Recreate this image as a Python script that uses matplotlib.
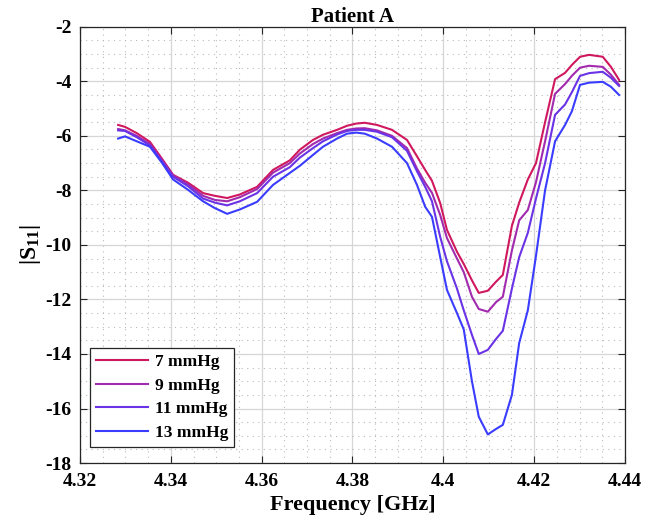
import matplotlib
matplotlib.use("Agg")
import matplotlib.pyplot as plt
from matplotlib.ticker import MultipleLocator

plt.rcParams['font.family'] = ['Liberation Serif', 'DejaVu Serif']
plt.rcParams['font.weight'] = 'bold'
plt.rcParams['axes.unicode_minus'] = False
plt.rcParams['mathtext.fontset'] = 'custom'
plt.rcParams['mathtext.rm'] = 'Liberation Serif:bold'
plt.rcParams['mathtext.bf'] = 'Liberation Serif:bold'
plt.rcParams['mathtext.it'] = 'Liberation Serif:bold'

freq = [4.3284, 4.3299, 4.3325, 4.3354, 4.3381, 4.3405, 4.3438, 4.3471, 4.3497,
        4.3524, 4.3552, 4.3590, 4.3625, 4.3662, 4.3684, 4.3713, 4.3735, 4.3766,
        4.3788, 4.3808, 4.3827, 4.3854, 4.3887, 4.3920, 4.3942, 4.3960, 4.3975,
        4.3993, 4.4008, 4.4030, 4.4045, 4.4063, 4.4078, 4.4098, 4.4116, 4.4131,
        4.4151, 4.4167, 4.4186, 4.4204, 4.4224, 4.4246, 4.4268, 4.4283, 4.4301,
        4.4321, 4.4351, 4.4369, 4.4387]

s11_7 = [-5.60, -5.67, -5.90, -6.22, -6.85, -7.43, -7.72, -8.10, -8.20,
         -8.28, -8.15, -7.87, -7.25, -6.90, -6.51, -6.15, -5.96, -5.78,
         -5.63, -5.55, -5.52, -5.60, -5.78, -6.15, -6.75, -7.25, -7.65,
         -8.46, -9.45, -10.25, -10.70, -11.30, -11.76, -11.68, -11.35, -11.10,
         -9.30, -8.45, -7.60, -7.00, -5.50, -3.92, -3.69, -3.40, -3.10,
         -3.03, -3.10, -3.47, -3.95]

s11_9 = [-5.75, -5.80, -6.00, -6.30, -6.90, -7.45, -7.78, -8.20, -8.35,
         -8.40, -8.25, -7.95, -7.35, -7.00, -6.65, -6.30, -6.10, -5.90,
         -5.78, -5.73, -5.72, -5.80, -6.00, -6.45, -7.20, -7.72, -8.09,
         -8.90, -9.75, -10.50, -11.00, -11.90, -12.35, -12.45, -12.10, -11.90,
         -10.20, -9.10, -8.72, -7.70, -6.20, -4.46, -4.10, -3.80, -3.50,
         -3.43, -3.47, -3.76, -4.13]

s11_11 = [-5.80, -5.82, -6.05, -6.35, -6.95, -7.50, -7.85, -8.30, -8.45,
          -8.55, -8.40, -8.10, -7.50, -7.15, -6.80, -6.45, -6.20, -5.95,
          -5.82, -5.78, -5.78, -5.85, -6.05, -6.55, -7.30, -7.87, -8.40,
          -9.70, -10.60, -11.60, -12.40, -13.30, -14.00, -13.85, -13.45, -13.15,
          -11.60, -10.45, -9.56, -8.30, -7.00, -5.23, -4.85, -4.40, -3.80,
          -3.70, -3.65, -3.87, -4.17]

s11_13 = [-6.10, -6.02, -6.20, -6.40, -7.00, -7.60, -7.98, -8.40, -8.65,
          -8.86, -8.70, -8.42, -7.80, -7.36, -7.10, -6.70, -6.40, -6.10,
          -5.92, -5.88, -5.92, -6.10, -6.40, -7.00, -7.80, -8.60, -8.97,
          -10.44, -11.65, -12.50, -13.10, -15.00, -16.30, -16.95, -16.75, -16.60,
          -15.50, -13.60, -12.40, -10.40, -8.00, -6.20, -5.60, -5.10, -4.13,
          -4.05, -4.02, -4.20, -4.50]

labels = ['7 mmHg', '9 mmHg', '11 mmHg', '13 mmHg']
series = [s11_7, s11_9, s11_11, s11_13]
colors = ['#D0185F', '#A22AAE', '#6B33E6', '#3A3CFF']

fig = plt.figure(figsize=(6.45, 5.25), dpi=100)
ax = fig.add_axes([0.124, 0.118, 0.845, 0.831])

for y, lab, c in zip(series, labels, colors):
    ax.plot(freq, y, color=c, lw=1.5, label=lab)

ax.set_xlim(4.32, 4.44)
ax.set_ylim(-18, -2)
ax.xaxis.set_minor_locator(MultipleLocator(0.005))
ax.yaxis.set_major_locator(MultipleLocator(2))
ax.yaxis.set_minor_locator(MultipleLocator(0.5))
ax.set_xticks([4.32, 4.34, 4.36, 4.38, 4.40, 4.42, 4.44])
ax.set_xticklabels(['4.32', '4.34', '4.36', '4.38', '4.4', '4.42', '4.44'])

ax.grid(which='major', color='#d6d6d6', lw=0.9, ls='-')
ax.grid(which='minor', color='#bababa', lw=0.8, ls=(0, (1, 4)))
ax.set_axisbelow(True)
ax.tick_params(which='both', direction='in', top=True, right=True, labelsize=14,
               colors='#262626')
ax.tick_params(which='minor', length=0)
ax.tick_params(which='major', length=5)
ax.tick_params(axis='x', pad=7)
ax.tick_params(axis='y', pad=6)
for lab in ax.get_xticklabels() + ax.get_yticklabels():
    lab.set_color('black')
for sp in ax.spines.values():
    sp.set_color('#262626')
    sp.set_linewidth(0.9)

ax.set_title('Patient A', fontsize=15, fontweight='bold', pad=3)
ax.set_xlabel('Frequency [GHz]', fontsize=16, fontweight='bold', labelpad=4)
ax.set_ylabel(r'|S$_{11}$|', fontsize=17, fontweight='bold', labelpad=2)

leg = ax.legend(loc='lower left', bbox_to_anchor=(0.018, 0.037), borderaxespad=0,
                fancybox=False, framealpha=1, edgecolor='#262626',
                prop={'size': 12.5, 'weight': 'bold'}, handlelength=3.0,
                labelspacing=0.42, borderpad=0.35, handletextpad=0.4)
leg.get_frame().set_linewidth(0.9)

fig.savefig('out.png', dpi=100)
